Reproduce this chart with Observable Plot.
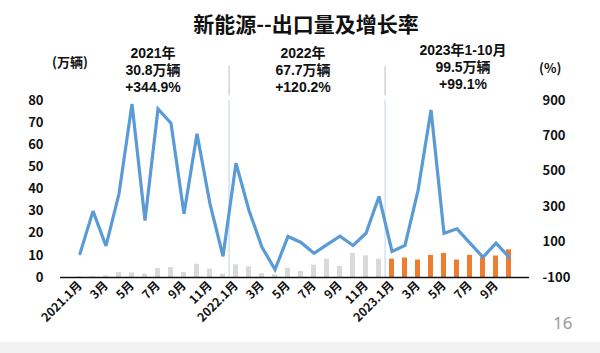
<!DOCTYPE html>
<html>
<head>
<meta charset="utf-8">
<script src="https://cdn.jsdelivr.net/npm/d3@7"></script>
<script src="https://cdn.jsdelivr.net/npm/@observablehq/plot@0.6"></script>
<style>
  html, body { margin: 0; padding: 0; background: #fff; }
  #wrap { position: relative; width: 600px; height: 353px; overflow: hidden; font-family: "Noto Sans CJK SC", "Noto Sans", sans-serif; }
  #wrap svg { position: absolute; left: 0; top: 0; }
  .t { position: absolute; text-align: center; color: #111; }
  #title { left: 0; width: 612px; top: 8px; font-size: 21px; font-weight: 700; }
  .ann { font-family: "Liberation Sans", "Noto Sans CJK SC", sans-serif; font-size: 14px; font-weight: 700; line-height: 17px; width: 160px; }
  #footer { position: absolute; left: 0; top: 342px; width: 600px; height: 11px; background: #f2f2f2; }
  #page { position: absolute; left: 553px; top: 311px; font-size: 17px; color: #9a9a9a; font-family: "Noto Sans", sans-serif; }
  .unit { position: absolute; font-size: 13px; font-weight: 700; color: #111; }
</style>
</head>
<body>
<div id="wrap">
  <div id="chart"></div>
  <div id="title" class="t"></div>
  <div id="a1" class="t ann" style="left:73px; top:45px;"></div>
  <div id="a2" class="t ann" style="left:223px; top:45px;"></div>
  <div id="a3" class="t ann" style="left:383px; top:42px;"></div>
  <div class="unit" style="left:52px; top:52px;">(万辆)</div>
  <div class="unit" style="left:539px; top:58px;">(%)</div>
  <div id="footer"></div>
  <div id="page">16</div>
</div>
<script>
const months = [
  "2021-01","2021-02","2021-03","2021-04","2021-05","2021-06","2021-07","2021-08","2021-09","2021-10","2021-11","2021-12",
  "2022-01","2022-02","2022-03","2022-04","2022-05","2022-06","2022-07","2022-08","2022-09","2022-10","2022-11","2022-12",
  "2023-01","2023-02","2023-03","2023-04","2023-05","2023-06","2023-07","2023-08","2023-09","2023-10"
];
// export volume, 10k vehicles (left axis)
const volume = [
  0.3,0.4,0.7,2.3,2.0,1.5,4.0,4.5,2.3,6.0,3.8,1.5,
  5.7,4.8,1.7,1.2,4.2,2.7,5.6,8.3,5.0,10.9,9.8,8.3,
  8.3,8.8,7.9,10.0,10.9,7.9,10.0,9.0,9.7,12.5
];
// year-on-year growth, % (right axis)
const growth = [
  35,275,79,373,881,222,853,772,260,712,316,20,
  546,279,71,-55,132,98,37,86,133,81,150,358,
  47,81,391,847,150,175,94,15,94,15
];
const xTickMonths = ["2021-01","2021-03","2021-05","2021-07","2021-09","2021-11","2022-01","2022-03","2022-05","2022-07","2022-09","2022-11","2023-01","2023-03","2023-05","2023-07","2023-09"];
const leftTicks = [0,10,20,30,40,50,60,70,80];
const rightTicks = [-100,100,300,500,700,900];
const yearSeparators = ["2022-01","2023-01"];
const titleText = "新能源--出口量及增长率";
const annotations = [
  ["2021年","30.8万辆","+344.9%"],
  ["2022年","67.7万辆","+120.2%"],
  ["2023年1-10月","99.5万辆","+99.1%"]
];

// map right-axis % onto left-axis units
const toLeft = d3.scaleLinear().domain([-100, 900]).range([0, 80]);

const data = months.map((m, i) => ({month: m, vol: volume[i], g: growth[i], gl: toLeft(growth[i]), year: m.slice(0,4)}));

function fmtMonth(m) {
  const [y, mo] = m.split("-");
  const n = +mo;
  return n === 1 ? `${y}.${n}月` : `${n}月`;
}

const W = 600, H = 353, mL = 60, mR = 71, mT = 100, mB = 76;
const band = (W - mL - mR) / months.length;

const chart = Plot.plot({
  width: W, height: H,
  marginLeft: mL, marginRight: mR, marginTop: mT, marginBottom: mB,
  style: {fontFamily: '"Noto Sans CJK SC", sans-serif', background: "transparent", overflow: "visible"},
  x: {type: "band", domain: months, padding: 0.6, align: 0.5},
  y: {domain: [0, 80]},
  marks: [
    Plot.ruleX(yearSeparators, {x: d => d, dx: -band / 2, y1: 0, y2: 80, stroke: "#bcd3e6", strokeWidth: 1}),
    Plot.ruleX(yearSeparators, {x: d => d, dx: -band / 2, y1: 82, y2: 95.5, stroke: "#c8c8c8", strokeWidth: 1.2}),
    Plot.barY(data, {x: "month", y: "vol", fill: d => d.year === "2023" ? "#ed7d31" : "#d9d9d9"}),
    Plot.line(data, {x: "month", y: "gl", stroke: "#5b9bd5", strokeWidth: 3.2, strokeLinejoin: "miter", strokeMiterlimit: 3}),
    Plot.axisY({anchor: "left", ticks: leftTicks, tickSize: 0, tickPadding: 17, line: true, label: null, fontSize: 13, fontWeight: 700, fill: "#111", stroke: "#111"}),
    Plot.axisY({anchor: "right", ticks: rightTicks.map(toLeft), tickFormat: d => String(Math.round(toLeft.invert(d))), tickSize: 0, tickPadding: 13, line: true, label: null, fontSize: 13, fontWeight: 700, textAnchor: "start", fill: "#111", stroke: "#111"}),
    Plot.ruleY([0], {stroke: "#111", strokeWidth: 1.5}),
    Plot.axisX({ticks: xTickMonths, tickFormat: fmtMonth, tickRotate: -45, tickSize: 0, tickPadding: 6, label: null, fontSize: 12, fontWeight: 700, fill: "#111"})
  ]
});
document.getElementById("chart").appendChild(chart);
document.getElementById("title").textContent = titleText;
["a1","a2","a3"].forEach((id, i) => {
  document.getElementById(id).innerHTML = annotations[i].map(s => `<div>${s}</div>`).join("");
});
</script>
</body>
</html>
